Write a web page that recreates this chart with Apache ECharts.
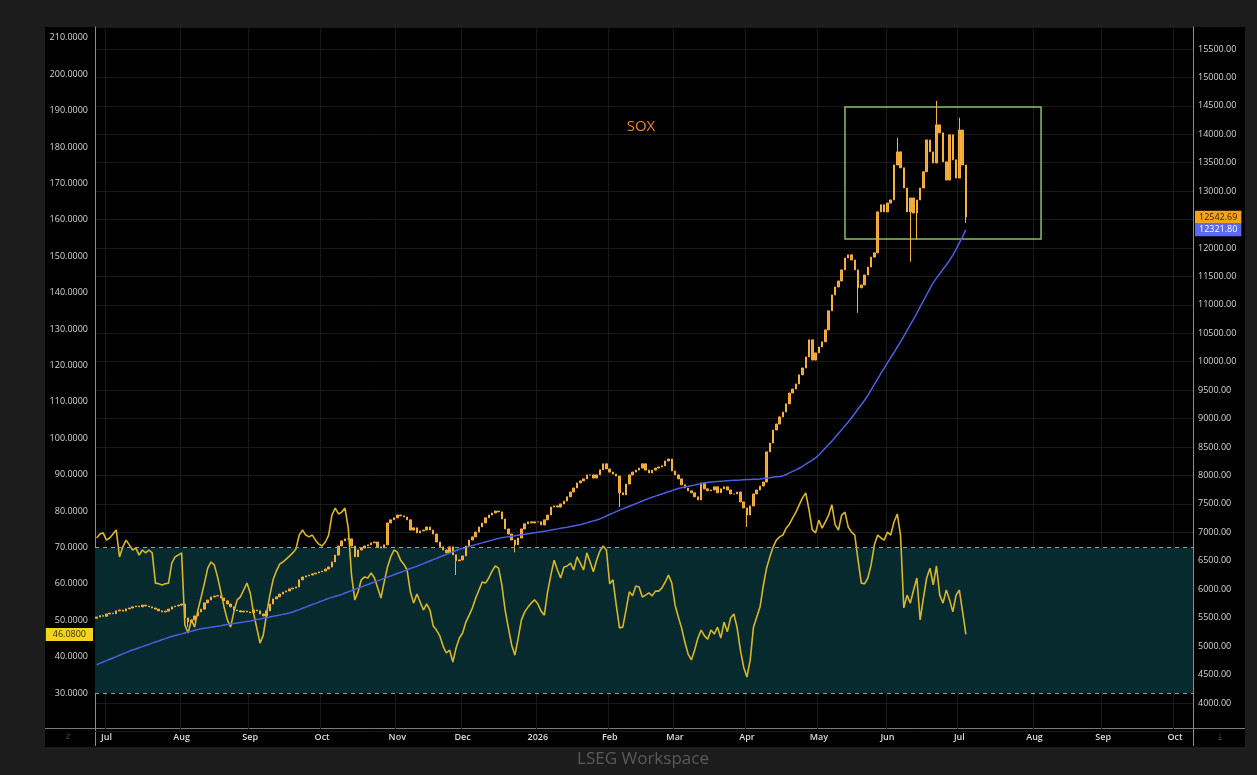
<!DOCTYPE html>
<html><head><meta charset="utf-8">
<script src="https://cdn.jsdelivr.net/npm/echarts@6/dist/echarts.min.js"></script>
<style>
html,body{margin:0;padding:0;background:#1c1c1c;width:1257px;height:775px;overflow:hidden;}
#panel{position:absolute;left:45px;top:27px;width:1200px;height:720px;background:#000;}
#chart{position:absolute;left:0;top:0;width:1257px;height:775px;}
</style></head><body>
<div id="panel"></div><div id="chart"></div>
<script>
// ---- axis categories: weekdays from 26 Jun 2025, 336 slots (to early Oct 2026)
const axisStart = [2025, 5, 26];
const axisDays = 336;
const monthNames = ['Jan','Feb','Mar','Apr','May','Jun','Jul','Aug','Sep','Oct','Nov','Dec'];

// ---- SOX daily closes (right axis)
const soxFirstOpen = 5490;
const soxClose = [
5510,5535,5525,5565,5580,5570,5620,5635,5615,5655,
5670,5690,5705,5690,5720,5705,5690,5670,5650,5620,
5600,5615,5650,5690,5705,5720,5740,5495,5425,5460,
5530,5600,5650,5760,5810,5865,5880,5885,5845,5795,
5740,5690,5635,5620,5600,5615,5600,5585,5635,5620,
5565,5530,5620,5740,5830,5865,5915,5950,5970,6005,
6020,6040,6165,6215,6235,6250,6270,6285,6305,6320,
6355,6390,6480,6600,6760,6850,6885,6885,6760,6570,
6690,6725,6760,6780,6815,6830,6745,6725,6780,7165,
7220,7255,7305,7290,7270,7220,7040,7080,6990,7025,
7040,7095,7040,6970,6830,6745,6690,6640,6745,6605,
6500,6515,6585,6760,6865,6920,7005,7095,7165,7255,
7305,7340,7375,7360,7235,7060,6970,6865,6780,6900,
7060,7150,7185,7165,7185,7185,7130,7220,7305,7445,
7465,7445,7500,7550,7625,7710,7780,7870,7905,7940,
8010,8010,7955,8010,8100,8205,8115,8060,8025,7990,
7695,7660,7850,8010,8060,8095,8130,8205,8095,8045,
8095,8130,8150,8170,8255,8290,8080,8010,7940,7835,
7780,7730,7695,7625,7570,7870,7765,7730,7745,7800,
7695,7765,7800,7745,7675,7675,7710,7535,7430,7305,
7465,7675,7745,7815,7885,8415,8570,8800,8905,9030,
9115,9260,9450,9520,9610,9770,9890,10085,10385,10030,
10155,10260,10350,10560,10895,11175,11315,11420,11615,11825,
11880,11790,11615,11300,11350,11525,11665,11840,11915,12635,
12760,12635,12790,12845,13460,13690,13410,13055,12635,12880,
12615,12845,13055,13340,13900,13690,13495,14165,14025,13515,
13195,13990,13550,13230,14075,13460,12542.69];
// notable wick extremes: [index, low, high]
const soxWicks = [[28,5335,null],[110,6250,null],[128,6650,null],[160,7445,null],[199,7095,null],
  [233,10860,null],[249,11760,null],[251,12150,null],[245,null,13935],[257,null,14585],[264,null,14290],[266,12440,null]];

// ---- moving average (right axis)
const soxMA = [
4672,4696,4721,4744,4768,4791,4814,4839,4863,4886,
4909,4930,4950,4971,4990,5011,5030,5052,5071,5090,
5111,5131,5152,5169,5185,5201,5215,5231,5247,5261,
5277,5291,5305,5314,5322,5333,5342,5351,5359,5370,
5379,5387,5396,5407,5416,5424,5433,5442,5454,5467,
5477,5489,5500,5512,5523,5535,5546,5558,5569,5581,
5600,5621,5642,5665,5686,5709,5730,5751,5774,5795,
5818,5839,5857,5875,5890,5910,5933,5954,5975,5998,
6019,6040,6063,6084,6105,6126,6147,6168,6191,6212,
6233,6254,6277,6298,6319,6342,6363,6384,6405,6428,
6451,6474,6497,6520,6543,6566,6589,6611,6634,6657,
6680,6705,6720,6736,6752,6768,6784,6800,6815,6831,
6847,6863,6879,6894,6907,6916,6924,6933,6940,6949,
6958,6966,6975,6984,6993,7002,7011,7021,7030,7040,
7051,7061,7072,7083,7091,7102,7113,7123,7132,7150,
7167,7185,7202,7218,7236,7260,7287,7313,7338,7364,
7390,7413,7436,7459,7482,7505,7528,7552,7575,7598,
7617,7637,7656,7675,7695,7714,7733,7753,7770,7786,
7798,7809,7821,7832,7844,7855,7867,7877,7886,7891,
7895,7899,7902,7907,7911,7914,7918,7921,7925,7929,
7930,7934,7935,7939,7946,7953,7960,7969,7976,7983,
7992,8018,8046,8073,8099,8127,8161,8198,8234,8271,
8310,8361,8421,8482,8544,8604,8671,8739,8806,8875,
8941,9012,9089,9168,9244,9323,9407,9506,9601,9699,
9796,9889,9981,10074,10162,10255,10348,10448,10550,10652,
10751,10855,10964,11069,11178,11287,11391,11470,11547,11627,
11702,11781,11876,11975,12090,12200,12321.8];

// ---- RSI (left axis)
const rsi = [
72.6,73.7,74.0,72.0,72.6,73.7,74.8,67.4,70.1,72.0,
70.7,69.3,69.8,67.9,69.3,68.5,69.3,68.5,60.2,60.0,
59.7,60.0,60.2,65.7,67.4,67.9,68.5,48.7,46.5,50.1,
48.1,52.8,56.4,60.2,64.3,66.0,65.2,61.9,57.8,53.6,
50.1,48.1,52.3,55.6,56.4,58.3,60.2,57.5,52.0,47.9,
43.7,45.9,51.7,56.9,61.1,63.5,65.4,66.0,66.8,67.6,
68.5,69.6,73.4,74.8,73.4,72.9,73.4,72.0,70.9,70.4,
71.5,73.4,78.9,80.8,79.2,79.7,80.8,75.3,62.4,55.6,
57.8,61.1,61.9,61.6,63.0,61.6,58.9,56.1,60.5,64.6,
67.4,69.3,68.7,66.5,65.4,63.8,57.8,54.7,57.2,55.0,
52.8,54.5,52.8,48.4,47.3,45.7,42.9,41.0,41.8,38.5,
42.4,45.1,46.5,49.5,51.4,53.4,56.1,58.3,60.5,60.2,
61.6,63.5,64.9,64.3,59.7,52.8,47.9,43.2,40.4,45.1,
50.1,52.3,53.6,54.7,55.6,54.5,52.5,51.4,57.8,62.4,
66.5,63.8,61.6,64.6,64.9,65.7,63.8,67.4,65.7,63.8,
68.5,66.0,63.3,66.5,69.0,70.4,69.3,60.0,61.1,54.2,
47.9,48.1,52.8,57.8,56.7,59.4,59.1,56.4,56.9,57.5,
56.7,58.0,58.0,58.9,60.5,62.4,60.2,54.2,50.9,47.9,
44.0,40.7,39.1,41.8,45.1,47.3,45.7,44.8,47.3,46.2,
48.1,45.1,49.5,46.8,50.6,51.7,47.9,41.8,37.1,34.4,
39.1,48.1,50.9,53.6,59.4,64.3,67.4,70.1,72.0,72.9,
73.4,75.3,76.4,78.1,79.7,81.7,83.6,85.0,80.3,74.8,
74.0,77.5,75.3,77.0,78.9,81.7,76.2,74.8,78.9,79.7,
75.6,74.2,73.4,66.5,60.2,60.0,61.6,65.2,70.7,73.4,
72.6,72.0,74.2,73.4,77.0,79.2,73.4,53.4,56.9,54.7,
58.3,61.6,50.1,56.1,61.6,64.3,59.7,64.9,56.9,54.7,
58.3,55.6,52.3,56.9,58.3,52.3,46.08];

const rsiBand = [30, 70];
const boxRange = {fromIdx: 229, toIdx: 289, low: 12160, high: 14480};
const leftTicks = {min: 20, max: 213, step: 10};
const rightTicks = {min: 3500, max: 15886, step: 500};

// ---- build
function buildDates() {
  const out = [];
  const d = new Date(Date.UTC(axisStart[0], axisStart[1], axisStart[2]));
  while (out.length < axisDays) {
    const wd = d.getUTCDay();
    if (wd !== 0 && wd !== 6) out.push(d.toISOString().slice(0, 10));
    d.setUTCDate(d.getUTCDate() + 1);
  }
  return out;
}
const dates = buildDates();
const monthStart = dates.map((d, i) => i > 0 && d.slice(0, 7) !== dates[i - 1].slice(0, 7));

const candles = soxClose.map((c, i) => {
  const o = i === 0 ? soxFirstOpen : soxClose[i - 1];
  return [o, c, Math.min(o, c), Math.max(o, c)];
});
soxWicks.forEach(([i, lo, hi]) => {
  if (lo != null) candles[i][2] = Math.min(candles[i][2], lo);
  if (hi != null) candles[i][3] = Math.max(candles[i][3], hi);
});

const FONT = '"Open Sans", "Noto Sans", sans-serif';
const chart = echarts.init(document.getElementById('chart'), null, {renderer: 'canvas'});
const monthFn = (idx) => monthStart[idx];
const hiddenLine = {color: 'rgba(0,0,0,0)', width: 1, type: 'solid'};

chart.setOption({
  backgroundColor: 'transparent',
  animation: false,
  grid: [
    {left: 95, right: 64, top: 27, bottom: 45.6},
    {left: 95, right: 64, top: 27, bottom: 43.6}
  ],
  xAxis: [
    {type: 'category', gridIndex: 0, data: dates, boundaryGap: true,
     axisLine: {show: false}, axisTick: {show: false},
     axisLabel: {interval: monthFn, color: '#dcdcdc', fontSize: 9, fontFamily: FONT, fontWeight: 600, margin: 4,
       formatter: (v) => { const m = parseInt(v.slice(5, 7), 10); return m === 1 ? v.slice(0, 4) : monthNames[m - 1]; }},
     splitLine: {show: true, interval: monthFn, lineStyle: {color: '#1a1a1a', width: 1}}},
    {type: 'category', gridIndex: 1, data: dates, boundaryGap: true, show: false}
  ],
  yAxis: [
    {type: 'value', gridIndex: 0, position: 'left', min: leftTicks.min, max: leftTicks.max, interval: leftTicks.step,
     axisLine: {show: true, lineStyle: {color: '#8c8c8c'}}, axisTick: {show: false}, splitLine: {show: false},
     axisLabel: {color: '#d6d6d6', fontSize: 9, fontFamily: FONT, margin: 7,
       formatter: (v) => (v >= 30 && v <= 210) ? v.toFixed(4) : ''}},
    {type: 'value', gridIndex: 1, position: 'right', min: rightTicks.min, max: rightTicks.max, interval: rightTicks.step,
     axisLine: {show: true, lineStyle: {color: '#8c8c8c'}}, axisTick: {show: false},
     splitLine: {show: true, lineStyle: {color: '#1a1a1a', width: 1}},
     axisLabel: {color: '#d6d6d6', fontSize: 9, fontFamily: FONT, margin: 5,
       formatter: (v) => (v >= 4000 && v <= 15500) ? v.toFixed(2) : ''}}
  ],
  series: [
    {name: 'RSI', type: 'line', xAxisIndex: 0, yAxisIndex: 0, data: rsi, symbol: 'none', z: 4,
     lineStyle: {color: '#d9b52c', width: 1.6},
     markArea: {silent: true, itemStyle: {color: '#062a2d'}, data: [[{yAxis: rsiBand[0]}, {yAxis: rsiBand[1]}]]},
     markLine: {silent: true, symbol: 'none', data: [
       {yAxis: rsiBand[1], lineStyle: {color: '#8fa0a2', type: [4, 4], width: 1}, label: {show: false}},
       {yAxis: rsiBand[0], lineStyle: {color: '#8fa0a2', type: [4, 4], width: 1}, label: {show: false}},
       {yAxis: rsi[rsi.length - 1], lineStyle: hiddenLine,
        label: {show: true, position: 'start', distance: 2, formatter: (p) => Number(p.value).toFixed(4),
          backgroundColor: '#f4d31b', color: '#3a3000', fontSize: 9, fontFamily: FONT, padding: [2, 7], opacity: 1}}
     ]}},
    {name: 'SOX', type: 'candlestick', xAxisIndex: 1, yAxisIndex: 1, data: candles, barWidth: 2, z: 3,
     itemStyle: {color: '#f0a030', color0: '#f0a030', borderColor: '#f5b040', borderColor0: '#f5b040', borderWidth: 1},
     markArea: {silent: true, itemStyle: {color: 'rgba(0,0,0,0)', borderColor: '#86c06a', borderWidth: 1.5},
       data: [[{coord: [boxRange.fromIdx, boxRange.high]}, {coord: [boxRange.toIdx, boxRange.low]}]]},
     markLine: {silent: true, symbol: 'none', data: [
       {yAxis: soxClose[soxClose.length - 1], lineStyle: hiddenLine,
        label: {show: true, position: 'end', distance: 2, formatter: (p) => Number(p.value).toFixed(2),
          backgroundColor: '#f5a21e', color: '#3a2000', fontSize: 9, fontFamily: FONT, padding: [2, 4], opacity: 1}}
     ]}},
    {name: 'MA', type: 'line', xAxisIndex: 1, yAxisIndex: 1, data: soxMA, symbol: 'none', z: 4,
     lineStyle: {color: '#4d5fe0', width: 1.5},
     markLine: {silent: true, symbol: 'none', data: [
       {yAxis: soxMA[soxMA.length - 1], lineStyle: hiddenLine,
        label: {show: true, position: 'end', distance: 2, formatter: (p) => Number(p.value).toFixed(2),
          backgroundColor: '#5a6af0', color: '#ffffff', fontSize: 9, fontFamily: FONT, padding: [2, 4], opacity: 1}}
     ]}}
  ],
  graphic: [
    {type: 'line', silent: true, shape: {x1: 95.5, y1: 27, x2: 95.5, y2: 746}, style: {stroke: '#8c8c8c', lineWidth: 1}},
    {type: 'line', silent: true, shape: {x1: 1193.5, y1: 27, x2: 1193.5, y2: 746}, style: {stroke: '#8c8c8c', lineWidth: 1}},
    {type: 'line', silent: true, shape: {x1: 45, y1: 728.5, x2: 1245, y2: 728.5}, style: {stroke: '#7a7a7a', lineWidth: 1}},
    {type: 'text', silent: true, x: 641, y: 127, style: {text: 'SOX', fill: '#e8892a', font: '15px ' + FONT, align: 'center', verticalAlign: 'middle', textAlign: 'center', textVerticalAlign: 'middle'}},
    {type: 'text', silent: true, x: 643, y: 759, style: {text: 'LSEG Workspace', fill: '#5a5a5a', font: '17px ' + FONT, align: 'center', verticalAlign: 'middle', textAlign: 'center', textVerticalAlign: 'middle'}},
    {type: 'text', silent: true, x: 68, y: 737, style: {text: 'Z', fill: '#4a4a4a', font: '8px ' + FONT, align: 'center', verticalAlign: 'middle', textAlign: 'center', textVerticalAlign: 'middle'}},
    {type: 'text', silent: true, x: 1220, y: 737, style: {text: '⤓', fill: '#4a4a4a', font: '9px "DejaVu Sans"', align: 'center', verticalAlign: 'middle', textAlign: 'center', textVerticalAlign: 'middle'}}
  ]
});
</script></body></html>
